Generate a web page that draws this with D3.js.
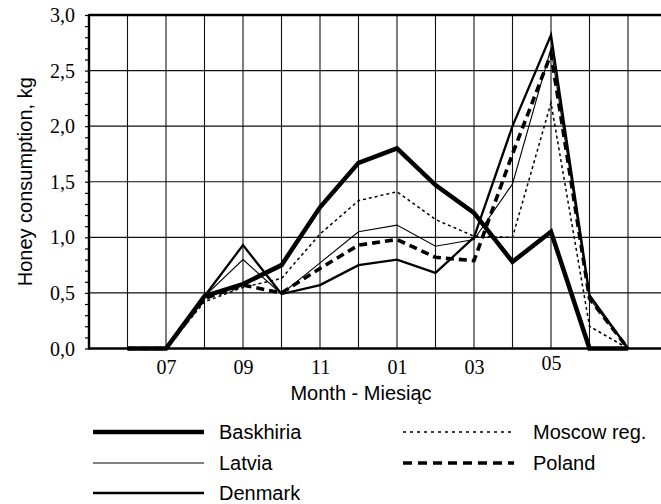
<!DOCTYPE html>
<html>
<head>
<meta charset="utf-8">
<script src="https://cdn.jsdelivr.net/npm/d3@7"></script>
<style>
  html, body { margin: 0; padding: 0; background: #fff; }
  svg { display: block; }
</style>
</head>
<body>
<svg id="chart" width="661" height="504"></svg>
<script>
// ---- data ----
const monthIndex = [1, 2, 3, 4, 5, 6, 7, 8, 9, 10, 11, 12, 13, 14];
const monthNames = ["06", "07", "08", "09", "10", "11", "12", "01", "02", "03", "04", "05", "06", "07"];
const labelledMonths = [2, 4, 6, 8, 10, 12];
const yTickValues = [0, 0.5, 1.0, 1.5, 2.0, 2.5, 3.0];

const baskhiria = [0, 0, 0.47, 0.58, 0.75, 1.27, 1.67, 1.80, 1.47, 1.22, 0.78, 1.05, 0, 0];
const denmark   = [0, 0, 0.47, 0.93, 0.49, 0.57, 0.75, 0.80, 0.68, 1.00, 2.00, 2.82, 0.48, 0];
const latvia    = [0, 0, 0.47, 0.80, 0.49, 0.77, 1.05, 1.11, 0.92, 0.98, 1.48, 2.70, 0.45, 0];
const moscow    = [0, 0, 0.42, 0.55, 0.63, 1.03, 1.33, 1.41, 1.16, 1.01, 1.00, 2.21, 0.20, 0];
const poland    = [0, 0, 0.45, 0.57, 0.50, 0.72, 0.93, 0.98, 0.82, 0.79, 1.75, 2.65, 0.45, 0];

const seriesNames = ["Baskhiria", "Latvia", "Denmark", "Moscow reg.", "Poland"];

// ---- layout ----
const svg = d3.select("#chart");
const plotLeft = 89, plotRight = 666.5, plotTop = 15, plotBottom = 348.5;
const x = d3.scaleLinear().domain([0, 15]).range([plotLeft, plotRight]);
const y = d3.scaleLinear().domain([0, 3]).range([plotBottom, plotTop]);

const styles = {
  "Baskhiria":   { w: 4.5, dash: null },
  "Latvia":      { w: 1.1, dash: null },
  "Denmark":     { w: 2.3, dash: null },
  "Moscow reg.": { w: 1.5, dash: "3,3" },
  "Poland":      { w: 3.6, dash: "8,5" }
};
const dataBy = {
  "Baskhiria": baskhiria, "Latvia": latvia, "Denmark": denmark,
  "Moscow reg.": moscow, "Poland": poland
};

// grid
const g = svg.append("g");
g.selectAll("line.vg").data(monthIndex).join("line")
  .attr("x1", d => x(d)).attr("x2", d => x(d))
  .attr("y1", y(3)).attr("y2", y(0))
  .attr("stroke", "#111").attr("stroke-width", 1.1);
g.selectAll("line.hg").data(yTickValues.filter(v => v > 0 && v < 3)).join("line")
  .attr("x1", plotLeft).attr("x2", 661)
  .attr("y1", d => y(d)).attr("y2", d => y(d))
  .attr("stroke", "#111").attr("stroke-width", 1.1);

// y axis with minor ticks
const yAxis = d3.axisLeft(y).tickValues(d3.range(0, 3.001, 0.1)).tickSize(4).tickFormat("");
const ya = svg.append("g").attr("transform", `translate(${plotLeft},0)`).call(yAxis);
ya.select(".domain").remove();
ya.selectAll(".tick line").attr("stroke", "#000").attr("stroke-width", 1.2);

// y tick labels
svg.append("g").selectAll("text").data(yTickValues).join("text")
  .attr("x", 75).attr("y", d => y(d)).attr("dy", "0.35em")
  .attr("text-anchor", "end")
  .attr("font-family", "'Liberation Serif', 'Times New Roman', serif")
  .attr("font-size", 20)
  .text(d => d3.format(".1f")(d).replace(".", ","));

// x tick labels
const xAxis = d3.axisBottom(x).tickValues(labelledMonths).tickSize(0)
  .tickFormat(d => monthNames[monthIndex.indexOf(d)]);
const xa = svg.append("g").attr("transform", `translate(0,${plotBottom})`).call(xAxis);
xa.select(".domain").remove();
xa.selectAll("text")
  .attr("font-family", "'Liberation Serif', 'Times New Roman', serif")
  .attr("font-size", 20).attr("fill", "#000")
  .attr("y", d => d === 12 ? 7 : 11).attr("dy", "0.71em");

// frame lines
svg.append("line").attr("x1", plotLeft).attr("x2", 661).attr("y1", y(3)).attr("y2", y(3))
  .attr("stroke", "#000").attr("stroke-width", 2.4);
svg.append("line").attr("x1", plotLeft).attr("x2", 661).attr("y1", y(0)).attr("y2", y(0))
  .attr("stroke", "#000").attr("stroke-width", 2.4);
svg.append("line").attr("x1", plotLeft).attr("x2", plotLeft).attr("y1", y(3) - 1).attr("y2", y(0) + 1)
  .attr("stroke", "#000").attr("stroke-width", 2.4);

// series lines
const line = d3.line().x((d, i) => x(monthIndex[i])).y(d => y(d));
const drawOrder = ["Latvia", "Moscow reg.", "Poland", "Denmark", "Baskhiria"];
svg.append("g").selectAll("path").data(drawOrder).join("path")
  .attr("d", n => line(dataBy[n]))
  .attr("fill", "none").attr("stroke", "#000")
  .attr("stroke-width", n => styles[n].w)
  .attr("stroke-dasharray", n => styles[n].dash)
  .attr("stroke-linejoin", "miter").attr("stroke-miterlimit", 10);

// axis titles
svg.append("text").attr("x", 361).attr("y", 400).attr("text-anchor", "middle")
  .attr("font-family", "'Liberation Sans', Arial, sans-serif").attr("font-size", 20)
  .text("Month - Miesiąc");
svg.append("text")
  .attr("transform", `translate(32,${(plotTop + plotBottom) / 2}) rotate(-90)`)
  .attr("text-anchor", "middle")
  .attr("font-family", "'Liberation Sans', Arial, sans-serif").attr("font-size", 20)
  .text("Honey consumption, kg");

// legend
const legendPos = {
  "Baskhiria":   { lx: 93,  tx: 219, cy: 432 },
  "Latvia":      { lx: 93,  tx: 219, cy: 463 },
  "Denmark":     { lx: 93,  tx: 219, cy: 493 },
  "Moscow reg.": { lx: 403, tx: 533, cy: 432 },
  "Poland":      { lx: 403, tx: 533, cy: 463 }
};
const legendDash = { "Moscow reg.": "3,4", "Poland": "9,6" };
const lg = svg.append("g").selectAll("g").data(seriesNames).join("g");
lg.append("line")
  .attr("x1", n => legendPos[n].lx).attr("x2", n => legendPos[n].lx + 111)
  .attr("y1", n => legendPos[n].cy).attr("y2", n => legendPos[n].cy)
  .attr("stroke", "#000").attr("stroke-width", n => styles[n].w)
  .attr("stroke-dasharray", n => legendDash[n] || null);
lg.append("text")
  .attr("x", n => legendPos[n].tx).attr("y", n => legendPos[n].cy).attr("dy", "0.36em")
  .attr("font-family", "'Liberation Sans', Arial, sans-serif").attr("font-size", 20)
  .text(n => n);
</script>
</body>
</html>
